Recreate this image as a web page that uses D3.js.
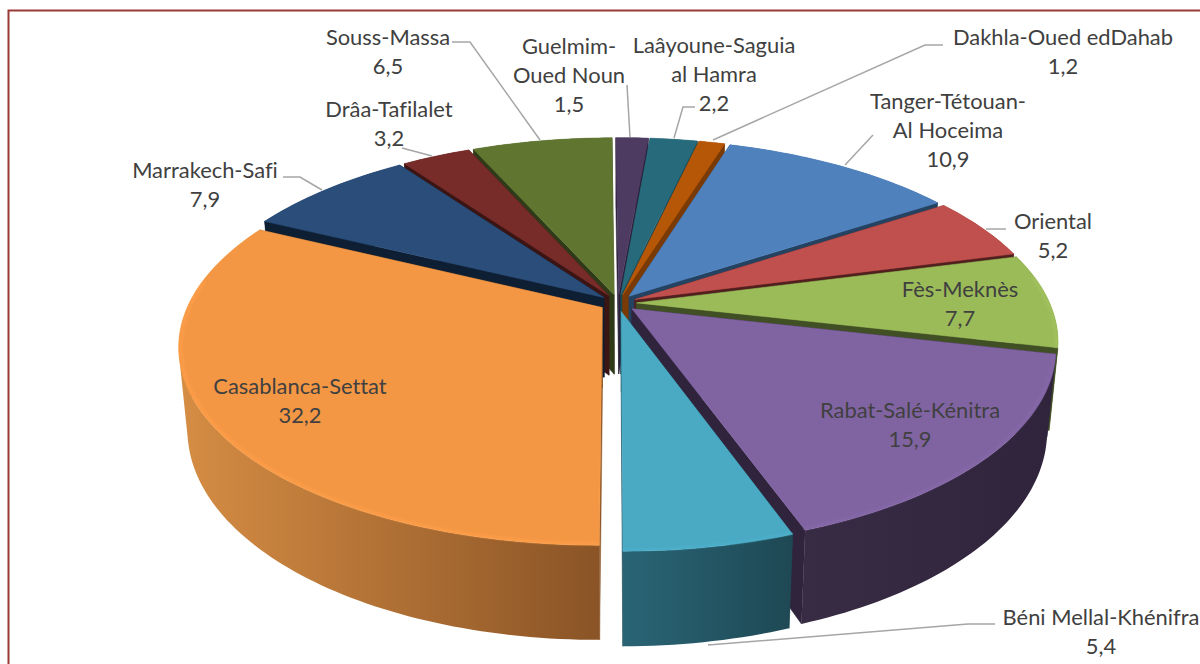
<!DOCTYPE html>
<html><head><meta charset="utf-8">
<script src="https://cdn.jsdelivr.net/npm/d3@7"></script>
<style>html,body{margin:0;padding:0;background:#fff;overflow:hidden}svg{display:block}
text{font-family:Lato,"Open Sans",sans-serif;fill:#404040;font-variant-ligatures:none}</style></head>
<body><svg id="c" width="1200" height="664"></svg>
<script>
// ---- data ----
const regions = ["Guelmim-Oued Noun","Laâyoune-Saguia al Hamra","Dakhla-Oued edDahab","Tanger-Tétouan-Al Hoceima","Oriental","Fès-Meknès","Rabat-Salé-Kénitra","Béni Mellal-Khénifra","Casablanca-Settat","Marrakech-Safi","Drâa-Tafilalet","Souss-Massa"];
const shares = [1.5,2.2,1.2,10.9,5.2,7.7,15.9,5.4,32.2,7.9,3.2,6.5];
// ---- styles ----
const topColors = ["#4d3b62","#276a7c","#b65708","#4f81bd","#c0504d","#9bbb59","#8064a2","#4aa9c3","#f49745","#2a4d7a","#772c2a","#5f7530"];
const wallLeft  = ["#2a2039","#1a4a56","#7a3a05","#254261","#501f1e","#414f25","#382b44","#2a6575","#d68d44","#0f1f33","#3a1514","#2f3a18"];
const wallRight = ["#2a2039","#1a4a56","#7a3a05","#254261","#501f1e","#414f25","#30243c","#1e4854","#8a5426","#0f1f33","#3a1514","#2f3a18"];
// ---- label layout: text lines, centre x, first-line centre y ----
const labelLines = [["Guelmim-","Oued Noun","1,5"],["Laâyoune-Saguia","al Hamra","2,2"],["Dakhla-Oued edDahab","1,2"],["Tanger-Tétouan-","Al Hoceima","10,9"],["Oriental","5,2"],["Fès-Meknès","7,7"],["Rabat-Salé-Kénitra","15,9"],["Béni Mellal-Khénifra","5,4"],["Casablanca-Settat","32,2"],["Marrakech-Safi","7,9"],["Drâa-Tafilalet","3,2"],["Souss-Massa","6,5"]];
const labelX = [569,714,1063,948,1053,960,910,1101,300,205,389,388];
const labelY = [47,46,38,102,222,290,411,618,387,171,110,38];
const leaders = [[[627,85],[630,137]],[[695,107],[683,107],[674,138]],[[943,45],[925,45],[713,140]],[[873,135],[845,165]],[[1006,229],[986,229]],null,null,[[995,624],[968,624],[708,645]],null,[[283,177],[300,177],[322,190]],[[402,148],[432,156]],[[452,42],[470,42],[540,140]]];

const svg = d3.select("#c");
const defs = svg.append("defs");
defs.append("filter").attr("id","soft").attr("x","-5%").attr("y","-5%").attr("width","110%").attr("height","110%")
  .append("feGaussianBlur").attr("stdDeviation",1);

// frame: only top and left edges fall inside the picture
svg.append("rect").attr("x",8.5).attr("y",10.5).attr("width",1300).attr("height",720)
  .attr("fill","#fff").attr("stroke","#9a3a38").attr("stroke-width",2);

// pseudo-3D perspective disc
const cx=618, cy=303, k=413, A=190, p=0.192, H=80, S=0.98, explode=0.045, rot=-0.008;
const sxScale=d3.scaleLinear().domain([-1,1]).range([-k,k]);
const syScale=d3.scaleLinear().domain([-1,1]).range([A,-A]);
function project(X,Y,low){
  const w=1+p*Y, s=low?S:1;
  return [cx+s*sxScale(X)/w, cy+s*syScale(Y)/w+(low?H/w:0)];
}
const pie=d3.pie().sort(null).startAngle(rot).endAngle(2*Math.PI+rot)(shares);
const line=d3.line();
const slices=pie.map((d,i)=>{
  const mid=(d.startAngle+d.endAngle)/2, ox=Math.sin(mid)*explode, oy=Math.cos(mid)*explode;
  const n=Math.max(6,Math.ceil((d.endAngle-d.startAngle)/0.02));
  const ang=d3.range(n+1).map(j=>d.startAngle+(d.endAngle-d.startAngle)*j/n);
  const at=(a,low)=>project(ox+Math.sin(a),oy+Math.cos(a),low);
  return {i,mid,ox,oy,ang,at,tip:low=>project(ox,oy,low),depth:oy};
}).sort((a,b)=>d3.descending(a.depth,b.depth));

// one consistently wound quad per segment, so the wall's silhouette follows the tangent
function wallPath(top,bot){
  let d="";
  for(let j=0;j<top.length-1;j++){
    let q=[top[j],top[j+1],bot[j+1],bot[j]];
    if(d3.polygonArea(q)<0) q=q.reverse();
    d+=line(q)+"Z";
  }
  return d;
}

slices.forEach(s=>{
  const g=svg.append("g");
  const top=s.ang.map(a=>s.at(a,false)), bot=s.ang.map(a=>s.at(a,true));
  const t0=s.tip(false), t1=s.tip(true), a0=s.ang[0], a1=s.ang[s.ang.length-1];
  [a0,a1].forEach(a=>{
    g.append("path").attr("d",line([t0,s.at(a,false),s.at(a,true),t1])+"Z")
      .attr("fill",wallRight[s.i]).attr("stroke",wallRight[s.i]).attr("stroke-width",.5);
  });
  const xs=top.map(d=>d[0]), id="wall"+s.i;
  const gr=defs.append("linearGradient").attr("id",id).attr("gradientUnits","userSpaceOnUse")
    .attr("x1",d3.min(xs)).attr("x2",d3.max(xs)).attr("y1",0).attr("y2",0);
  gr.append("stop").attr("offset",0).attr("stop-color",wallLeft[s.i]);
  gr.append("stop").attr("offset",1).attr("stop-color",wallRight[s.i]);
  g.append("path").attr("d",wallPath(top,bot)).attr("fill",`url(#${id})`).attr("fill-rule","nonzero");
  g.append("path").attr("d",line([t0].concat(top))+"Z").attr("fill",topColors[s.i])
    .attr("stroke",d3.color(topColors[s.i]).brighter(.2)).attr("stroke-width",.5);
  // soft bevel right at the front edge
  const rim=s.ang.filter(a=>Math.cos(a)<0.15).map(a=>project(s.ox+Math.sin(a)*0.995,s.oy+Math.cos(a)*0.995,false));
  if(rim.length>1) g.append("path").attr("d",line(rim)).attr("fill","none")
    .attr("stroke",d3.color(topColors[s.i]).brighter(.12)).attr("stroke-width",2).attr("filter","url(#soft)");
});

leaders.forEach(l=>{ if(l) svg.append("path").attr("d",line(l)).attr("fill","none").attr("stroke","#a6a6a6").attr("stroke-width",1.5); });

labelLines.forEach((ls,i)=>{
  const t=svg.append("text").attr("text-anchor","middle").attr("font-size",21.9);
  ls.forEach((s,j)=>t.append("tspan").attr("x",labelX[i]).attr("y",labelY[i]+29*j+7).text(s));
});
</script></body></html>
